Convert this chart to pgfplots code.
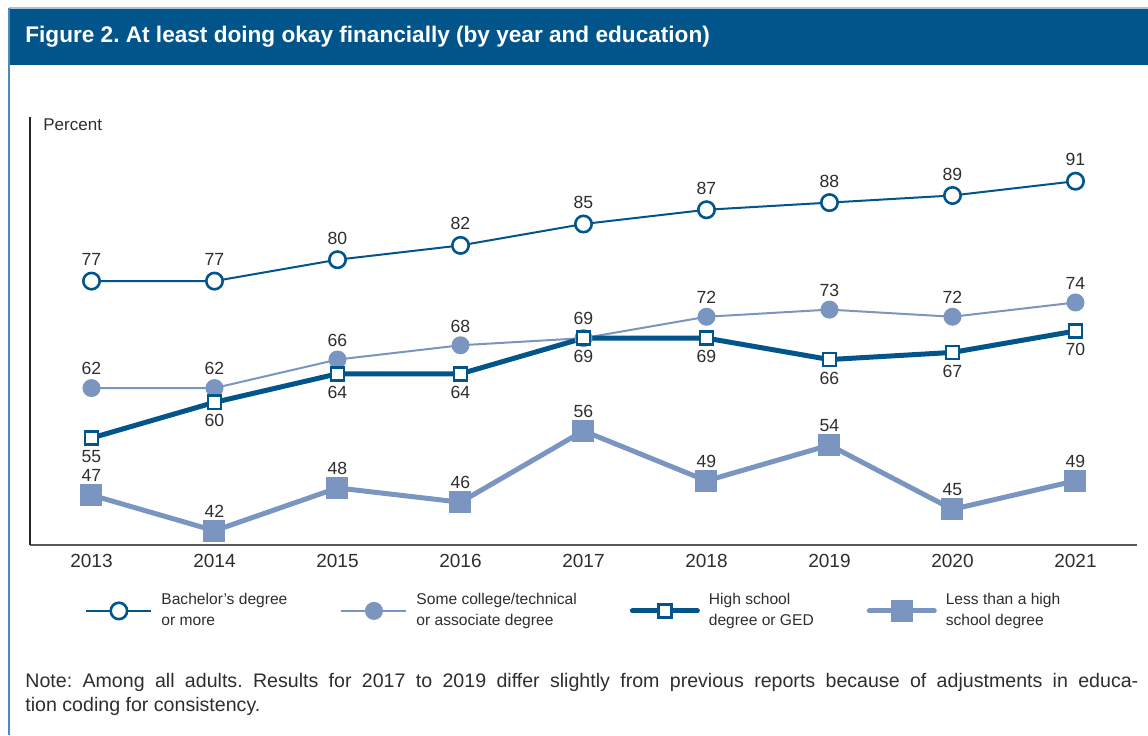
\documentclass[border=0pt]{standalone}
\usepackage{pgfplots}
\pgfplotsset{compat=1.18}
\usepackage{fontspec}
\setmainfont{Liberation Sans}
\frenchspacing
\definecolor{darkblue}{HTML}{02558B}
\definecolor{lightblue}{HTML}{7A95C0}
\definecolor{framebl}{HTML}{4F88BA}
\definecolor{topline}{HTML}{A9C2D8}
\definecolor{txt}{HTML}{2E2E2E}
\begin{document}
\frenchspacing
\begin{tikzpicture}
\path[use as bounding box] (0pt,0pt) rectangle (574pt,-367.5pt);
\draw[topline, line width=0.6pt] (4.5pt,-4pt) -- (574pt,-4pt);
\fill[darkblue] (4.5pt,-4.5pt) rectangle (574pt,-32.5pt);
\draw[framebl, line width=0.8pt] (4.5pt,-4pt) -- (4.5pt,-367.5pt);
\node[anchor=west, inner sep=0pt, text=white, font=\fontsize{11.3}{13}\selectfont\bfseries] at (12.5pt,-18.5pt) {Figure 2. At least doing okay financially (by year and education)};
\node[anchor=west, inner sep=0pt, text=txt, font=\fontsize{8.5}{10}\selectfont] at (21.5pt,-62.5pt) {Percent};
\node[anchor=north west, inner sep=0pt, text=txt, text width=556.5pt, align=justify, font=\fontsize{9.8}{12}\selectfont] at (12.5pt,-336.3pt) {Note: Among all adults. Results for 2017 to 2019 differ slightly from previous reports because of adjustments in educa-\linebreak tion coding for consistency.};
\begin{axis}[
  at={(15pt,-272.5pt)}, anchor=south west,
  width=553.5pt, height=214pt, scale only axis,
  xmin=2012.5, xmax=2021.5, ymin=40, ymax=100,
  axis x line*=bottom, axis y line*=left,
  x axis line style={draw=black!65, line width=0.8pt},
  y axis line style={draw=black!85, line width=0.6pt},
  xtick={2013,2014,2015,2016,2017,2018,2019,2020,2021},
  xticklabels={2013,2014,2015,2016,2017,2018,2019,2020,2021},
  ytick=\empty,
  major tick length=0pt,
  xticklabel style={inner sep=0pt, yshift=-4.25pt, text=txt, font=\fontsize{9.5}{11}\selectfont},
  /pgf/number format/assume math mode=true,
  clip=false,
  nodes near coords={\pgfmathprintnumber{\pgfplotspointmeta}},
  every node near coord/.append style={text=txt, inner sep=0pt, font=\fontsize{8.8}{10}\selectfont},
  legend columns=4,
  legend style={at={(axis description cs:0.0497,-0.154)}, anchor=west, draw=none, fill=none, inner sep=0pt,
    font=\fontsize{7.8}{10.5}\selectfont, text=txt,
    cells={anchor=west, align=left},
    /tikz/every odd column/.append style={column sep=2.5pt},
    /tikz/every even column/.append style={column sep=24.5pt}},
  legend image code/.code={\draw[mark repeat=2,mark phase=2] plot coordinates {(0pt,0pt) (16.25pt,0pt) (32.5pt,0pt)};},
]
\addplot[darkblue, line width=1pt, mark=*, mark size=4.1pt, mark options={fill=white, draw=darkblue, line width=1.3pt},
  every node near coord/.append style={anchor=south, yshift=7pt}]
  coordinates {(2013,77) (2014,77) (2015,80) (2016,82) (2017,85) (2018,87) (2019,88) (2020,89) (2021,91)};
\addlegendentry{Bachelor's degree\\or more}
\addplot[lightblue, line width=1pt, mark=*, mark size=4pt, mark options={fill=lightblue, draw=none},
  every node near coord/.append style={anchor=south, yshift=6pt}]
  coordinates {(2013,62) (2014,62) (2015,66) (2016,68) (2017,69) (2018,72) (2019,73) (2020,72) (2021,74)};
\addlegendentry{Some college/technical\\or associate degree}
\addplot[darkblue, line width=2.5pt, line cap=round, mark=square*, mark size=3.3pt, mark options={fill=white, draw=darkblue, line width=1.3pt},
  every node near coord/.append style={anchor=north, yshift=-5.5pt}]
  coordinates {(2013,55) (2014,60) (2015,64) (2016,64) (2017,69) (2018,69) (2019,66) (2020,67) (2021,70)};
\addlegendentry{High school\\degree or GED}
\addplot[lightblue, line width=2.5pt, line cap=round, mark=square*, mark size=4.25pt, mark options={fill=lightblue, draw=none},
  every node near coord/.append style={anchor=south, yshift=5.5pt}]
  coordinates {(2013,47) (2014,42) (2015,48) (2016,46) (2017,56) (2018,49) (2019,54) (2020,45) (2021,49)};
\addlegendentry{Less than a high\\school degree}
\end{axis}
\end{tikzpicture}
\end{document}
